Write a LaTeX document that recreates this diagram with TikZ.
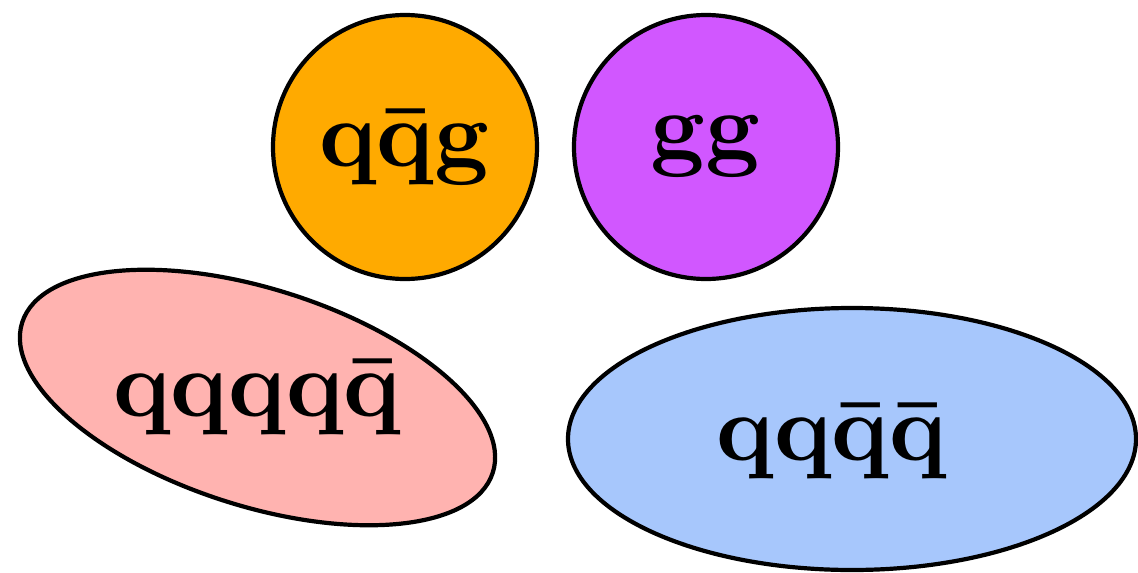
\documentclass[tikz,border=0pt]{standalone}
\usepackage{graphicx}
\usetikzlibrary{shapes.geometric}
\definecolor{corange}{HTML}{FFAA00}
\definecolor{cpurple}{HTML}{D157FF}
\definecolor{cpink}{HTML}{FFB3B0}
\definecolor{cblue}{HTML}{A7C7FC}
\newcommand{\biglbl}[1]{\scalebox{9.5}{$\mathbf{#1}$}}
\tikzset{
  blob/.style={draw=black, line width=4.2pt, inner sep=0pt, outer sep=0pt},
  ball/.style={blob, circle, minimum size=264pt},
  lbl/.style={inner sep=0pt}
}
\begin{document}
\begin{tikzpicture}[x=1pt,y=-1pt]
\useasboundingbox (0,0) rectangle (1138,573);
\node[ball, fill=corange] (qqg) at (405,147) {};
\node[lbl] (qqgT) at (qqg.center) {\biglbl{q\bar{q}g}};
\node[ball, fill=cpurple] (gg) at (706,147) {};
\node[lbl] (ggT) at (gg.center) {\biglbl{gg}};
\node[blob, ellipse, fill=cpink, minimum width=494pt, minimum height=217pt, rotate=-17.7] (penta) at (257.5,397.5) {};
\node[lbl] (pentaT) at (penta.center) {\biglbl{qqqq\bar{q}}};
\node[blob, ellipse, fill=cblue, minimum width=568pt, minimum height=262pt] (tetra) at (852,439) {};
\node[lbl] (tetraT) at (832,441) {\biglbl{qq\bar{q}\bar{q}}};
\end{tikzpicture}
\end{document}
